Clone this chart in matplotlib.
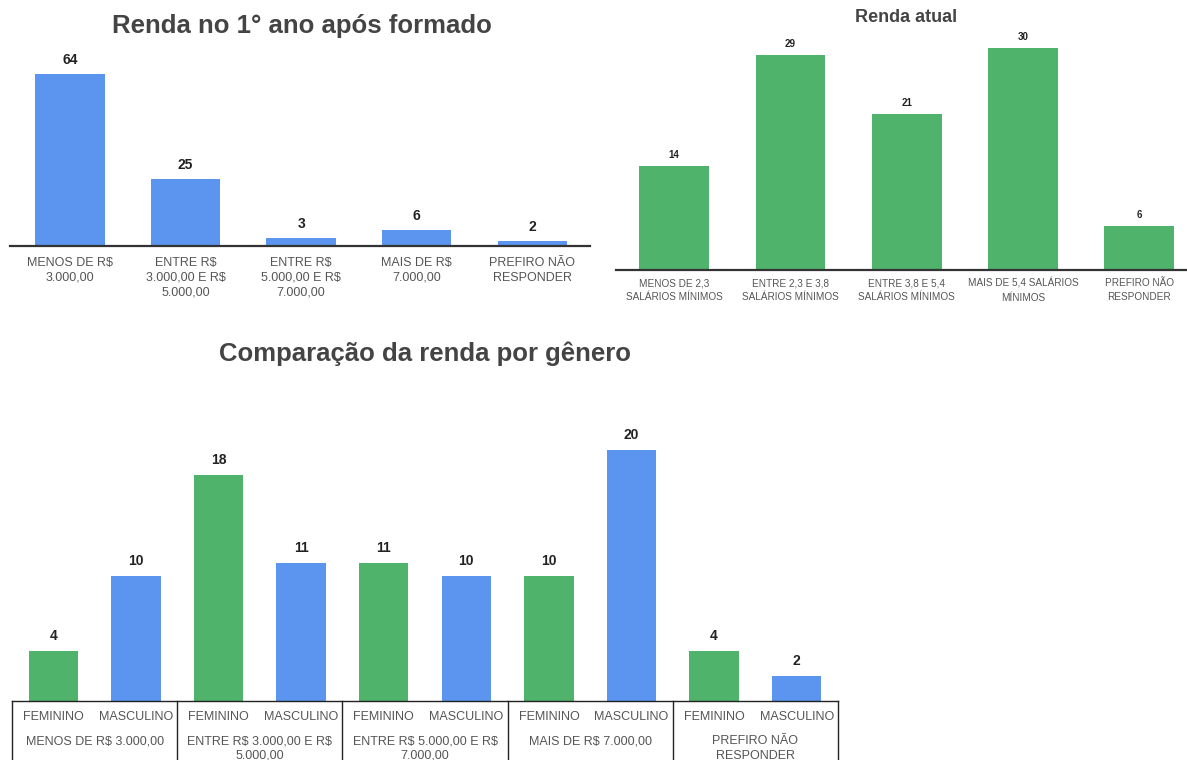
import matplotlib
matplotlib.use("Agg")
import matplotlib.pyplot as plt

plt.rcParams['font.family'] = ['Liberation Sans', 'DejaVu Sans']
plt.rcParams['text.parse_math'] = False  # "R$" não é mathtext

# Renda no 1° ano após formado
cat_primeiro = ["MENOS DE R$\n3.000,00", "ENTRE R$\n3.000,00 E R$\n5.000,00",
                "ENTRE R$\n5.000,00 E R$\n7.000,00", "MAIS DE R$\n7.000,00",
                "PREFIRO NÃO\nRESPONDER"]
val_primeiro = [64, 25, 3, 6, 2]

# Renda atual
cat_atual = ["MENOS DE 2,3\nSALÁRIOS MÍNIMOS", "ENTRE 2,3 E 3,8\nSALÁRIOS MÍNIMOS",
             "ENTRE 3,8 E 5,4\nSALÁRIOS MÍNIMOS", "MAIS DE 5,4 SALÁRIOS\nMÍNIMOS",
             "PREFIRO NÃO\nRESPONDER"]
val_atual = [14, 29, 21, 30, 6]

# Comparação por gênero
faixas = ["MENOS DE R$ 3.000,00", "ENTRE R$ 3.000,00 E R$\n5.000,00",
          "ENTRE R$ 5.000,00 E R$\n7.000,00", "MAIS DE R$ 7.000,00",
          "PREFIRO NÃO\nRESPONDER"]
generos = ["FEMININO", "MASCULINO"]
val_feminino = [4, 18, 11, 10, 4]
val_masculino = [10, 11, 10, 20, 2]

AZUL = "#5B95F0"
VERDE = "#50B36B"
TITULO = "#444444"
ROTULO = "#555555"

W, H = 1187, 760
fig = plt.figure(figsize=(W / 100, H / 100), dpi=100)


def eixo(x0, y0, x1, y1):
    # caixa em pixels (origem no canto superior esquerdo)
    return fig.add_axes([x0 / W, 1 - y1 / H, (x1 - x0) / W, (y1 - y0) / H])


def limpar(ax):
    for s in ["top", "right", "left"]:
        ax.spines[s].set_visible(False)
    ax.set_yticks([])
    ax.set_xticks([])
    ax.patch.set_alpha(0)


# ---- gráfico 1
ax1 = eixo(10, 40, 590, 246)
xs = range(len(val_primeiro))
ax1.bar(xs, val_primeiro, width=0.6, color=AZUL)
ax1.set_xlim(-0.52, 4.5)
ax1.set_ylim(0, 76.6)
limpar(ax1)
ax1.spines["bottom"].set_color("#333333")
ax1.spines["bottom"].set_linewidth(1.6)
for x, v, c in zip(xs, val_primeiro, cat_primeiro):
    ax1.annotate(str(v), (x, v), xytext=(0, 7), textcoords="offset pixels",
                 ha="center", va="bottom", fontsize=10, fontweight="bold", color="#222222")
    ax1.annotate(c, (x, 0), xytext=(0, -11), textcoords="offset pixels",
                 ha="center", va="top", fontsize=9, color=ROTULO, linespacing=1.3)
fig.text(302 / W, 1 - 26 / H, "Renda no 1° ano após formado", ha="center", va="center",
         fontsize=18.5, fontweight="bold", color=TITULO)

# ---- gráfico 2
ax2 = eixo(616, 30, 1187, 270)
xs = range(len(val_atual))
ax2.bar(xs, val_atual, width=0.6, color=VERDE)
ax2.set_xlim(-0.5, 4.41)
ax2.set_ylim(0, 32.4)
limpar(ax2)
ax2.spines["bottom"].set_color("#333333")
ax2.spines["bottom"].set_linewidth(1.6)
for x, v, c in zip(xs, val_atual, cat_atual):
    ax2.annotate(str(v), (x, v), xytext=(0, 6), textcoords="offset pixels",
                 ha="center", va="bottom", fontsize=7, fontweight="bold", color="#222222")
    ax2.annotate(c, (x, 0), xytext=(0, -8), textcoords="offset pixels",
                 ha="center", va="top", fontsize=7.2, color=ROTULO, linespacing=1.45)
fig.text(906 / W, 1 - 18 / H, "Renda atual", ha="center", va="center",
         fontsize=13, fontweight="bold", color=TITULO)

# ---- gráfico 3
ax3 = eixo(12, 420, 838, 701)
n = len(faixas)
x_fem = [2 * i for i in range(n)]
x_mas = [2 * i + 1 for i in range(n)]
ax3.bar(x_fem, val_feminino, width=0.6, color=VERDE)
ax3.bar(x_mas, val_masculino, width=0.6, color=AZUL)
ax3.set_xlim(-0.5, 2 * n - 0.5)
ax3.set_ylim(0, 22.4)
limpar(ax3)
ax3.spines["bottom"].set_color("#222222")
ax3.spines["bottom"].set_linewidth(1.0)
for xf, xm, vf, vm in zip(x_fem, x_mas, val_feminino, val_masculino):
    for x, v, g in ((xf, vf, generos[0]), (xm, vm, generos[1])):
        ax3.annotate(str(v), (x, v), xytext=(0, 8), textcoords="offset pixels",
                     ha="center", va="bottom", fontsize=10, fontweight="bold", color="#222222")
        ax3.annotate(g, (x, 0), xytext=(0, -16), textcoords="offset pixels",
                     ha="center", va="center", fontsize=9, color=ROTULO)
for i, f in enumerate(faixas):
    ax3.annotate(f, (2 * i + 0.5, 0), xytext=(0, -34), textcoords="offset pixels",
                 ha="center", va="top", fontsize=9, color=ROTULO, linespacing=1.3)
# linhas separando as faixas
trans = ax3.get_xaxis_transform()
for b in range(n + 1):
    ax3.plot([2 * b - 0.5, 2 * b - 0.5], [0, -0.3], transform=trans, color="#222222",
             lw=1.0, clip_on=False)
fig.text(425 / W, 1 - 354 / H, "Comparação da renda por gênero", ha="center", va="center",
         fontsize=18.5, fontweight="bold", color=TITULO)

fig.savefig("out.png", dpi=100)
